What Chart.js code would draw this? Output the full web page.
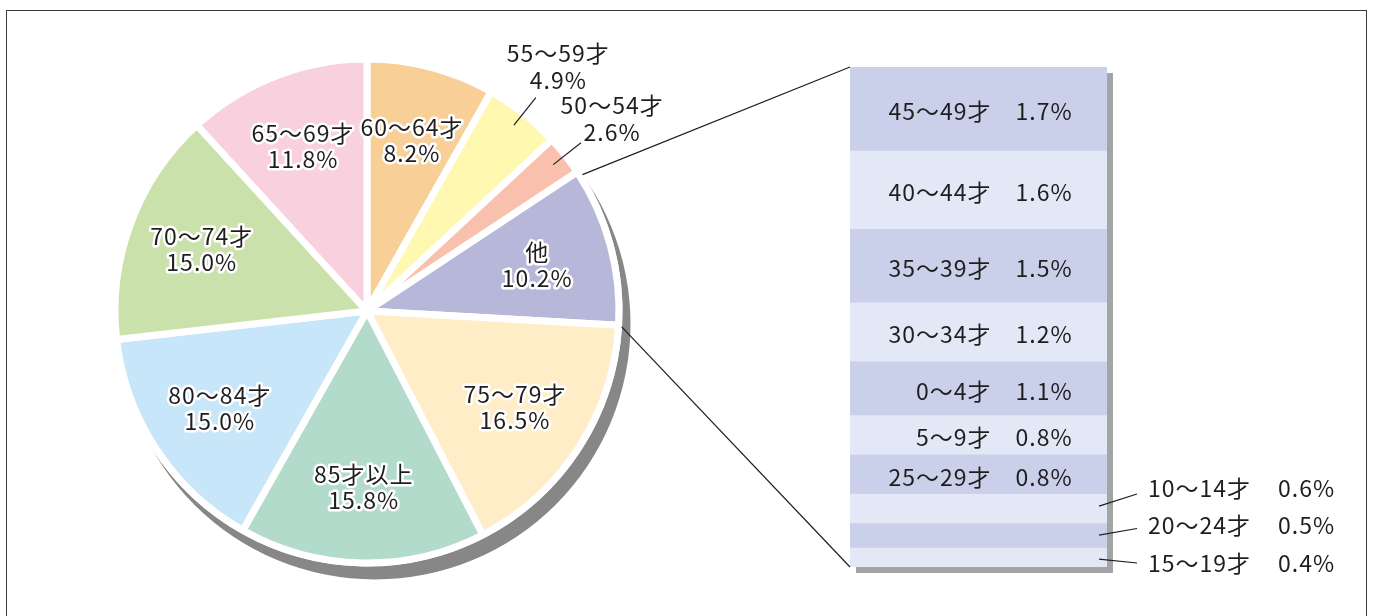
<!DOCTYPE html>
<html lang="ja">
<head>
  <meta charset="UTF-8">
  <title>年齢別構成比</title>
  <script src="https://cdn.jsdelivr.net/npm/chart.js"></script>
  <style>
    html, body {
      margin: 0;
      padding: 0;
      background: #ffffff;
    }
    body {
      width: 1374px;
      height: 616px;
      position: relative;
      overflow: hidden;
      font-family: 'Noto Sans CJK JP', sans-serif;
    }
    .frame {
      position: absolute;
      left: 6px;
      top: 10px;
      width: 1361px;
      height: 660px;
      border: 1.5px solid #3a3a3a;
      box-sizing: border-box;
    }
    canvas {
      position: absolute;
      left: 0;
      top: 0;
    }
  </style>
</head>
<body>
  <div class="frame"></div>
  <canvas id="pieChart" width="1374" height="616"></canvas>
  <canvas id="detailChart" width="1374" height="616"></canvas>

  <script>
    // 円グラフ（時計回り、12時の位置から）
    const pieLabels = ['60～64才', '55～59才', '50～54才', '他', '75～79才', '85才以上', '80～84才', '70～74才', '65～69才'];
    const pieValues = [8.2, 4.9, 2.6, 10.2, 16.5, 15.8, 15.0, 15.0, 11.8];
    const pieColors = ['#f9cf98', '#fff8b0', '#f8c0ad', '#b7b7da', '#ffedc8', '#b3dbcb', '#c8e6f9', '#cbe1ab', '#f9d1de'];

    // 「他」の内訳（上から）
    const otherLabels = ['45～49才', '40～44才', '35～39才', '30～34才', '0～4才', '5～9才', '25～29才', '10～14才', '20～24才', '15～19才'];
    const otherValues = [1.7, 1.6, 1.5, 1.2, 1.1, 0.8, 0.8, 0.6, 0.5, 0.4];
    const otherColors = ['#cbd0ea', '#e3e8f6'];

    const otherIndex = pieLabels.indexOf('他');
    const FONT = '23px "Noto Sans CJK JP", "Noto Sans", sans-serif';

    function pct(v) {
      return v.toFixed(1) + '%';
    }

    function haloText(ctx, text, x, y, halo) {
      if (halo) {
        ctx.lineWidth = 5;
        ctx.strokeStyle = '#ffffff';
        ctx.lineJoin = 'round';
        ctx.strokeText(text, x, y);
      }
      ctx.fillStyle = '#1e1e1e';
      ctx.fillText(text, x, y);
    }

    function line(ctx, x1, y1, x2, y2) {
      ctx.beginPath();
      ctx.moveTo(x1, y1);
      ctx.lineTo(x2, y2);
      ctx.stroke();
    }

    const pieDeco = {
      id: 'pieDeco',
      beforeDatasetsDraw(chart) {
        const arc = chart.getDatasetMeta(0).data[0];
        const ctx = chart.ctx;
        const r = arc.outerRadius + 3.5;
        ctx.save();
        ctx.fillStyle = '#878787';
        ctx.beginPath();
        ctx.arc(arc.x + 8, arc.y + 13, r, 0, Math.PI * 2);
        ctx.fill();
        ctx.fillStyle = '#ffffff';
        ctx.beginPath();
        ctx.arc(arc.x, arc.y, r, 0, Math.PI * 2);
        ctx.fill();
        ctx.restore();
      },
      afterDatasetsDraw(chart) {
        const ctx = chart.ctx;
        const arcs = chart.getDatasetMeta(0).data;
        ctx.save();
        ctx.font = FONT;
        ctx.letterSpacing = '1px';
        ctx.textAlign = 'center';
        ctx.textBaseline = 'middle';
        arcs.forEach((a, i) => {
          const mid = (a.startAngle + a.endAngle) / 2;
          const R = a.outerRadius;
          const cos = Math.cos(mid), sin = Math.sin(mid);
          if (pieValues[i] < 5) {
            // 小さい扇形は外側に引き出し線つきで
            ctx.lineWidth = 1.2;
            ctx.strokeStyle = '#1e1e1e';
            line(ctx, a.x + cos * R * 0.94, a.y + sin * R * 0.94, a.x + cos * R * 1.08, a.y + sin * R * 1.08);
            const tx = a.x + cos * R * 1.24 - 10 + cos * 12;
            const ty = a.y + sin * R * 1.24;
            haloText(ctx, pieLabels[i], tx, ty - 13, false);
            haloText(ctx, pct(pieValues[i]), tx, ty + 14, false);
          } else {
            const tx = a.x + cos * R * 0.7;
            const ty = a.y + sin * R * 0.7;
            haloText(ctx, pieLabels[i], tx, ty - 13, true);
            haloText(ctx, pct(pieValues[i]), tx, ty + 13, true);
          }
        });
        ctx.restore();
      }
    };

    const pieChart = new Chart(document.getElementById('pieChart'), {
      type: 'pie',
      data: {
        labels: pieLabels,
        datasets: [{
          data: pieValues,
          backgroundColor: pieColors,
          borderColor: '#ffffff',
          borderWidth: 7
        }]
      },
      options: {
        responsive: false,
        animation: false,
        radius: 252,
        layout: { padding: { left: 100, right: 740, top: 50, bottom: 44 } },
        plugins: {
          legend: { display: false },
          tooltip: { enabled: false }
        }
      },
      plugins: [pieDeco]
    });

    const otherTotal = otherValues.reduce((s, v) => s + v, 0);

    const detailDeco = {
      id: 'detailDeco',
      beforeDatasetsDraw(chart) {
        const first = chart.getDatasetMeta(0).data[0];
        const last = chart.getDatasetMeta(otherValues.length - 1).data[0];
        const left = first.x - first.width / 2;
        const top = Math.min(first.y, first.base);
        const bottom = Math.max(last.y, last.base);
        const ctx = chart.ctx;
        ctx.save();
        ctx.fillStyle = '#a4a4a4';
        ctx.fillRect(left + 6, top + 6, first.width, bottom - top);
        ctx.restore();
      },
      afterDatasetsDraw(chart) {
        const ctx = chart.ctx;
        const first = chart.getDatasetMeta(0).data[0];
        const last = chart.getDatasetMeta(otherValues.length - 1).data[0];
        const left = first.x - first.width / 2;
        const right = first.x + first.width / 2;
        const top = Math.min(first.y, first.base);
        const bottom = Math.max(last.y, last.base);

        ctx.save();
        ctx.font = FONT;
        ctx.letterSpacing = '1px';
        ctx.textBaseline = 'middle';
        ctx.strokeStyle = '#1e1e1e';
        ctx.lineWidth = 1.2;

        const outside = [];
        otherValues.forEach((v, i) => {
          const bar = chart.getDatasetMeta(i).data[0];
          const mid = (bar.y + bar.base) / 2;
          if (v < 0.7) {
            outside.push({ i, mid });
            return;
          }
          ctx.textAlign = 'right';
          haloText(ctx, otherLabels[i], first.x + 13, mid + 3, false);
          ctx.textAlign = 'left';
          haloText(ctx, pct(v), first.x + 37, mid + 3, false);
        });

        const n = outside.length;
        outside.forEach((o, k) => {
          const ty = bottom - 4 - (n - 1 - k) * 37.5;
          line(ctx, right - 8, o.mid + (k - 1) * 2, right + 30, ty + 3 - (k - 1) * 3);
          ctx.textAlign = 'left';
          haloText(ctx, otherLabels[o.i], right + 41, ty, false);
          haloText(ctx, pct(otherValues[o.i]), right + 171, ty, false);
        });

        // 円グラフの「他」と内訳を結ぶ線
        const arc = pieChart.getDatasetMeta(0).data[otherIndex];
        const rr = arc.outerRadius + 3;
        line(ctx, arc.x + Math.cos(arc.startAngle + 0.02) * rr, arc.y + Math.sin(arc.startAngle + 0.02) * rr, left, top);
        line(ctx, arc.x + Math.cos(arc.endAngle - 0.01) * rr, arc.y + Math.sin(arc.endAngle - 0.01) * rr + 4, left, bottom);
        ctx.restore();
      }
    };

    new Chart(document.getElementById('detailChart'), {
      type: 'bar',
      data: {
        labels: ['他'],
        datasets: otherLabels.map((label, i) => ({
          label: label,
          data: [otherValues[i]],
          backgroundColor: otherColors[i % 2],
          borderWidth: 0,
          barPercentage: 1,
          categoryPercentage: 1
        }))
      },
      options: {
        responsive: false,
        animation: false,
        layout: { padding: { left: 850, right: 267, top: 67, bottom: 49 } },
        scales: {
          x: { display: false, stacked: true },
          y: { display: false, stacked: true, reverse: true, min: 0, max: otherTotal }
        },
        plugins: {
          legend: { display: false },
          tooltip: { enabled: false }
        }
      },
      plugins: [detailDeco]
    });
  </script>
</body>
</html>
